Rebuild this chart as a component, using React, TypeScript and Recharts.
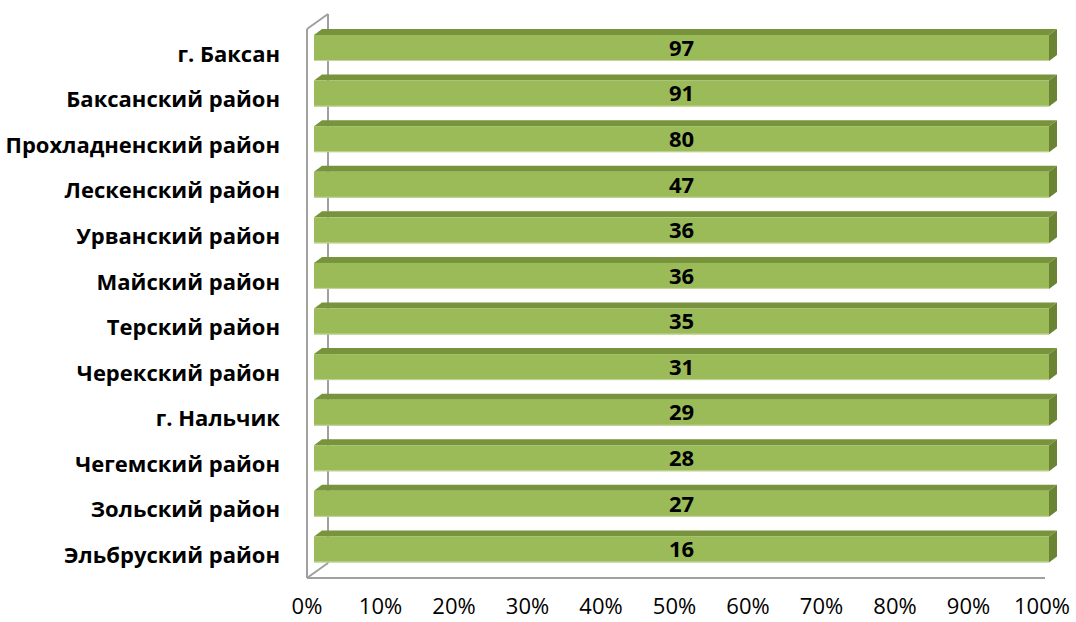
import React from 'react';
import { BarChart, Bar, XAxis, YAxis, LabelList } from 'recharts';

const categories = [
  'г. Баксан',
  'Баксанский район',
  'Прохладненский район',
  'Лескенский район',
  'Урванский район',
  'Майский район',
  'Терский район',
  'Черекский район',
  'г. Нальчик',
  'Чегемский район',
  'Зольский район',
  'Эльбруский район',
];
const values = [97, 91, 80, 47, 36, 36, 35, 31, 29, 28, 27, 16];
const xTicks = [0, 0.1, 0.2, 0.3, 0.4, 0.5, 0.6, 0.7, 0.8, 0.9, 1];

const data = categories.map((name, i) => ({ name, value: values[i] }));

const W = 1076;
const H = 622;
const PLOT_LEFT = 307;
const PLOT_RIGHT = 1042;
const PLOT_TOP = 31;
const PLOT_BOTTOM = 578;
const X_AXIS_H = 40;

// 3D look
const WALL_DX = 21;
const WALL_DY = -15;
const BAR_DX = 7;
const BAR_DY = -6;
const DEPTH_X = 8;
const DEPTH_Y = -6;

const FRONT = '#9BBB59';
const TOP = '#77933C';
const SIDE = '#6A8434';
const EDGE = '#C4D79B';
const WALL = '#A0A0A0';

const FONT = '"Open Sans", "DejaVu Sans", sans-serif';

const Bar3D = (props: any) => {
  const { x, y, width, height } = props;
  const fx = x + BAR_DX;
  const fy = y + BAR_DY;
  const top = `${fx},${fy} ${fx + DEPTH_X},${fy + DEPTH_Y} ${fx + width + DEPTH_X},${fy + DEPTH_Y} ${fx + width},${fy}`;
  const side = `${fx + width},${fy} ${fx + width + DEPTH_X},${fy + DEPTH_Y} ${fx + width + DEPTH_X},${fy + height + DEPTH_Y} ${fx + width},${fy + height}`;
  return (
    <g>
      <polygon points={top} fill={TOP} />
      <polygon points={side} fill={SIDE} />
      <rect x={fx} y={fy} width={width} height={height} fill={FRONT} />
      <line x1={fx} y1={fy + height - 0.5} x2={fx + width} y2={fy + height - 0.5} stroke={EDGE} strokeWidth={1} />
    </g>
  );
};

const BarLabel = (props: any) => {
  const { x, y, width, height, value } = props;
  return (
    <text
      x={x + width / 2 + BAR_DX}
      y={y + height / 2 + BAR_DY}
      dy="0.355em"
      textAnchor="middle"
      fontFamily={FONT}
      fontWeight={700}
      fontSize={22}
      fill="#000"
    >
      {value}
    </text>
  );
};

const Walls = () => {
  const l = PLOT_LEFT;
  const t = PLOT_TOP - 2;
  const b = PLOT_BOTTOM;
  return (
    <g stroke={WALL} strokeWidth={2} fill="none">
      <line x1={l + WALL_DX} y1={t + WALL_DY} x2={l + WALL_DX} y2={b + WALL_DY} />
      <line x1={l} y1={t} x2={l + WALL_DX} y2={t + WALL_DY} />
      <line x1={l} y1={b} x2={l + WALL_DX} y2={b + WALL_DY} />
      <line x1={l} y1={t} x2={l} y2={b} />
      <line x1={l} y1={b} x2={PLOT_RIGHT + 3} y2={b} />
    </g>
  );
};

export default function App() {
  return (
    <div style={{ position: 'absolute', left: 0, top: 0, width: W, height: H, background: '#fff' }}>
      <BarChart
        width={W}
        height={H}
        data={data}
        layout="vertical"
        stackOffset="expand"
        barSize={26}
        margin={{ top: PLOT_TOP, right: W - PLOT_RIGHT, bottom: H - PLOT_BOTTOM - X_AXIS_H, left: 0 }}
      >
        <Walls />
        <XAxis
          type="number"
          domain={[0, 1]}
          ticks={xTicks}
          tickFormatter={(v: number) => `${Math.round(v * 100)}%`}
          axisLine={false}
          tickLine={false}
          tickSize={0}
          tickMargin={20}
          height={X_AXIS_H}
          interval={0}
          tick={{ fill: '#000', fontSize: 22, fontFamily: FONT }}
        />
        <YAxis
          type="category"
          dataKey="name"
          width={PLOT_LEFT}
          axisLine={false}
          tickLine={false}
          tickSize={0}
          tickMargin={27}
          interval={0}
          tick={{ fill: '#000', fontSize: 22, fontWeight: 700, fontFamily: FONT }}
        />
        <Bar dataKey="value" stackId="a" isAnimationActive={false} shape={<Bar3D />}>
          <LabelList dataKey="value" content={<BarLabel />} />
        </Bar>
      </BarChart>
    </div>
  );
}
